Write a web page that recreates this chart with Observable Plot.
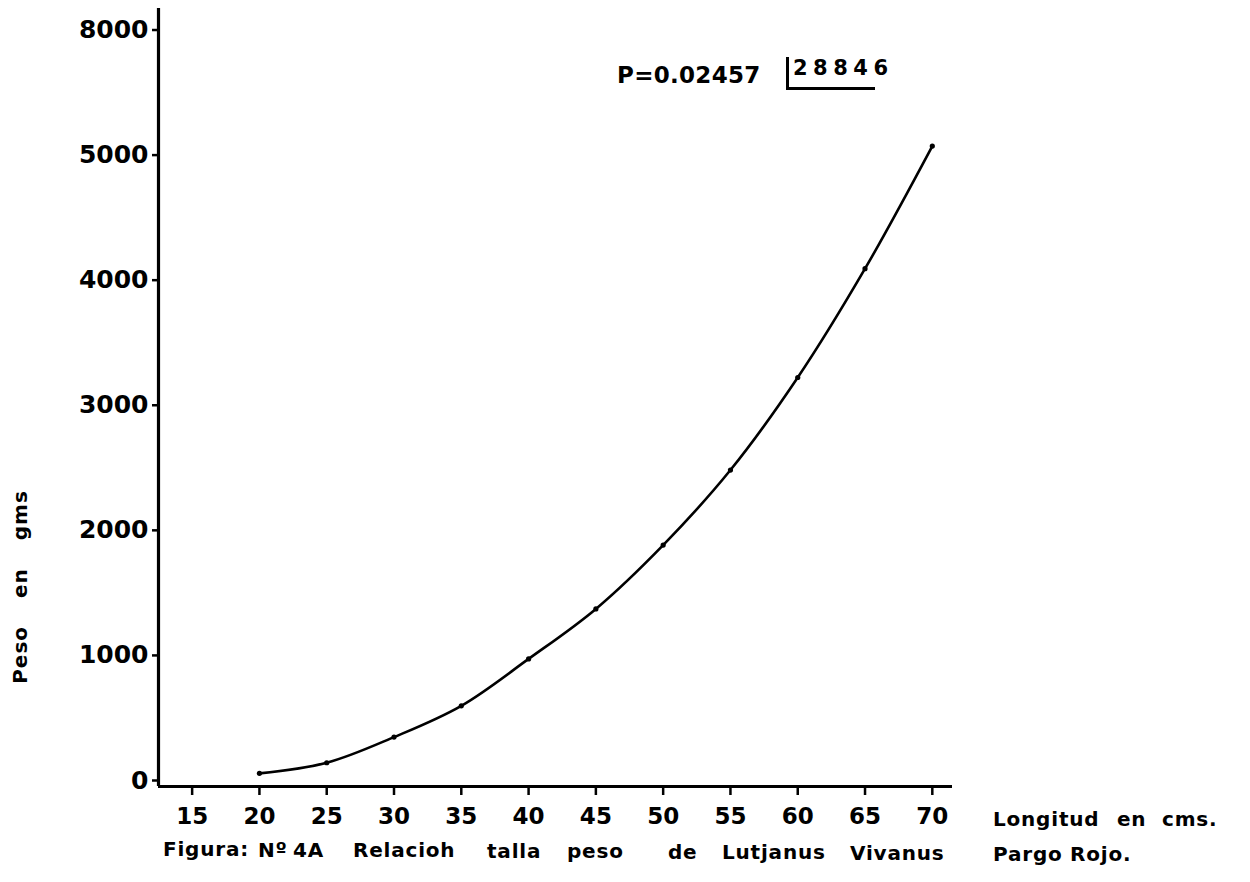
<!DOCTYPE html>
<html><head><meta charset="utf-8">
<script src="https://cdn.jsdelivr.net/npm/d3@7"></script>
<script src="https://cdn.jsdelivr.net/npm/@observablehq/plot@0.6"></script>
<style>
body{margin:0;background:#fff;}
#wrap{position:relative;width:1250px;height:882px;font-family:"DejaVu Sans",sans-serif;font-weight:bold;color:#000;overflow:hidden;}
.ov{position:absolute;white-space:pre;line-height:1;}
</style></head><body><div id="wrap"></div>
<script>
// Data: Longitud (cm) vs Peso (g)
const longitud = [20, 25, 30, 35, 40, 45, 50, 55, 60, 65, 70];
const peso = [105, 190, 395, 645, 1020, 1420, 1930, 2530, 3270, 4140, 5120];
const xTicks = [15, 20, 25, 30, 35, 40, 45, 50, 55, 60, 65, 70];
const yTicks = [0, 1000, 2000, 3000, 4000, 5000, 6000];
const yTickLabels = ["0", "1000", "2000", "3000", "4000", "5000", "8000"];
const formulaLead = "P=0.02457";
const formulaExponent = "28846";
const xTitleWords = ["Longitud", "en", "cms."];
const yTitleWords = ["Peso", "en", "gms"];
const captionWords = ["Figura:", "Nº", "4A", "Relacioh", "talla", "peso", "de", "Lutjanus", "Vivanus", "Pargo", "Rojo."];

// layout (pixel positions of free text in the page)
const captionLeft = [163, 258, 293, 353, 487, 567, 668, 722, 850, 993, 1070];
const xTitleLeft = [993, 1117, 1162];

const data = longitud.map((l, i) => ({longitud: l, peso: peso[i]}));
const yLabelOf = new Map(yTicks.map((t, i) => [t, yTickLabels[i]]));

const chart = Plot.plot({
  width: 1250,
  height: 882,
  marginLeft: 158,
  marginRight: 298,
  marginTop: 8,
  marginBottom: 96,
  style: {fontFamily: "DejaVu Sans, sans-serif", fontWeight: "bold", color: "#000", background: "#fff"},
  x: {domain: [12.5, 71.5], label: null},
  y: {domain: [0, 6220], label: null},
  marks: [
    Plot.axisX({ticks: xTicks, tickSize: 9, tickPadding: 12, fontSize: 23, strokeWidth: 2.5, label: null}),
    Plot.axisY({ticks: yTicks, tickSize: 6, tickPadding: 4, fontSize: 25, dy: -6, strokeWidth: 2.5, label: null,
      tickFormat: d => yLabelOf.get(d)}),
    Plot.ruleX([12.5], {strokeWidth: 3.2, stroke: "#000"}),
    Plot.ruleY([0], {strokeWidth: 3.2, stroke: "#000"}),
    Plot.line(data, {x: "longitud", y: "peso", curve: "catmull-rom", strokeWidth: 2.6, stroke: "#000"}),
    Plot.dot(data, {x: "longitud", y: "peso", r: 2.6, fill: "#000"})
  ]
});
const wrap = document.getElementById("wrap");
wrap.appendChild(chart);

function ov(text, css) {
  const d = document.createElement("div");
  d.className = "ov";
  d.textContent = text;
  Object.assign(d.style, css);
  wrap.appendChild(d);
  return d;
}
// formula annotation
ov(formulaLead, {left: "617px", top: "64px", fontSize: "23px", letterSpacing: "0.3px"});
ov(formulaExponent, {left: "793px", top: "58px", fontSize: "21px", letterSpacing: "5.5px"});
ov("", {left: "786px", top: "57px", width: "86px", height: "30px",
  borderLeft: "3px solid #000", borderBottom: "3px solid #000"});

// x title
xTitleWords.forEach((w, i) => ov(w, {left: xTitleLeft[i] + "px", top: "809px", fontSize: "20px", letterSpacing: "0.8px"}));
// caption
captionWords.forEach((w, i) => ov(w, {left: captionLeft[i] + "px", top: (839 + (captionLeft[i] - 163) * 0.006) + "px",
  fontSize: "20px", letterSpacing: "0.8px"}));
// y title (rotated)
ov(yTitleWords.join(" "), {left: "20px", top: "587px", fontSize: "20px", wordSpacing: "20px", letterSpacing: "1px",
  transform: "translate(-50%,-50%) rotate(-90deg)"});
</script>
</body></html>
